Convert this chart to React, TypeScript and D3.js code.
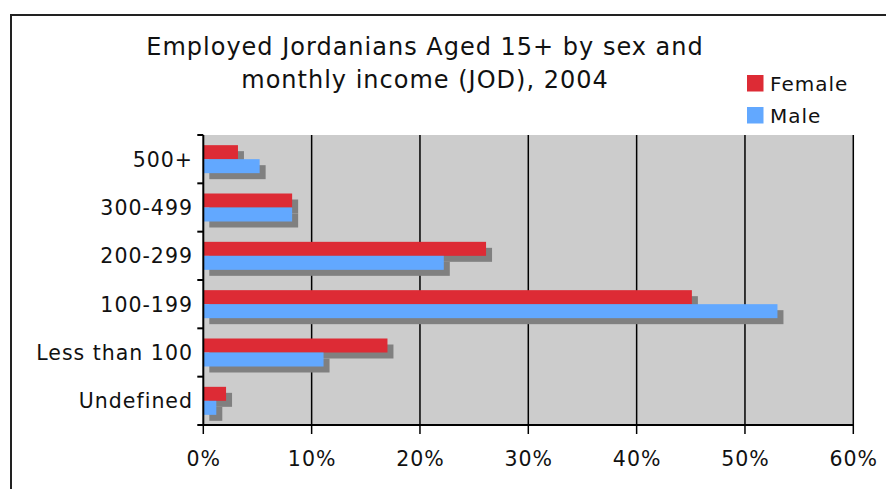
import React from "react";
import * as d3 from "d3";

const categories = ["500+", "300-499", "200-299", "100-199", "Less than 100", "Undefined"];
const seriesNames = ["Female", "Male"];
const female = [3.2, 8.2, 26.1, 45.1, 17.0, 2.1];
const male = [5.2, 8.2, 22.2, 53.0, 11.1, 1.2];
const xTicks = [0, 10, 20, 30, 40, 50, 60];
const titleLines = ["Employed Jordanians Aged 15+ by sex and", "monthly income (JOD), 2004"];

const colors: Record<string, string> = { Female: "#dd2b35", Male: "#62a8ff" };
const FONT = "'DejaVu Sans', Verdana, sans-serif";

export default function App() {
  const W = 886, H = 489;
  const left = 203.3, right = 853.3, top = 135, bottom = 425;
  const x = d3.scaleLinear().domain([0, 60]).range([left, right]);
  const y = d3.scaleBand<string>().domain(categories).range([top, bottom]).padding(0);
  const inner = d3.scaleBand<string>().domain(seriesNames).range([0, y.bandwidth()]).paddingInner(0).paddingOuter(0.726);
  const values: Record<string, number[]> = { Female: female, Male: male };
  const sh = 6;

  return (
    <svg width={W} height={H} style={{ position: "absolute", left: 0, top: 0, display: "block" }} fontFamily={FONT}>
      <rect x={0} y={0} width={W} height={H} fill="#fff" />
      <rect x={11} y={15} width={W} height={H} fill="none" stroke="#222" strokeWidth={2} />
      {titleLines.map((t, i) => (
        <text key={t} x={425} y={55 + i * 33} textAnchor="middle" fontSize={24} letterSpacing={1} fill="#111">{t}</text>
      ))}
      {/* legend */}
      {seriesNames.map((s, i) => (
        <g key={s}>
          <rect x={747} y={75 + i * 32} width={16.5} height={16.5} fill={colors[s]} />
          <text x={770} y={90.5 + i * 32} fontSize={20} letterSpacing={1} fill="#111">{s}</text>
        </g>
      ))}
      {/* plot background */}
      <rect x={left} y={top} width={right - left} height={bottom - top} fill="#cccccc" />
      {xTicks.slice(1).map((t) => (
        <line key={t} x1={x(t)} x2={x(t)} y1={top} y2={bottom} stroke="#000" strokeWidth={1.5} />
      ))}
      {/* shadows */}
      {categories.map((c, ci) =>
        seriesNames.map((s) => {
          const v = values[s][ci];
          const yy = (y(c) as number) + (inner(s) as number);
          return <rect key={c + s + "sh"} x={x(0) + sh} y={yy + sh} width={x(v) - x(0)} height={inner.bandwidth()} fill="#808080" />;
        })
      )}
      {categories.map((c, ci) =>
        seriesNames.map((s) => {
          const v = values[s][ci];
          const yy = (y(c) as number) + (inner(s) as number);
          return <rect key={c + s} x={x(0)} y={yy} width={x(v) - x(0)} height={inner.bandwidth()} fill={colors[s]} />;
        })
      )}
      {/* axes */}
      <line x1={left} x2={left} y1={top} y2={bottom} stroke="#000" strokeWidth={2} />
      <line x1={left} x2={right} y1={bottom} y2={bottom} stroke="#000" strokeWidth={2} />
      {[...categories.map((c) => y(c) as number), bottom].map((yy, i) => (
        <line key={"yt" + i} x1={left - 6} x2={left} y1={yy} y2={yy} stroke="#000" strokeWidth={2} />
      ))}
      {xTicks.map((t) => (
        <g key={"xt" + t}>
          <line x1={x(t)} x2={x(t)} y1={bottom} y2={bottom + 9} stroke="#000" strokeWidth={1.5} />
          <text x={x(t) + 0.5} y={466} textAnchor="middle" fontSize={20.5} letterSpacing={1} fill="#111">{t + "%"}</text>
        </g>
      ))}
      {categories.map((c) => (
        <text key={"yl" + c} x={193} y={(y(c) as number) + y.bandwidth() / 2 + 7.5} textAnchor="end" fontSize={20.5} letterSpacing={1} fill="#111">{c}</text>
      ))}
    </svg>
  );
}
